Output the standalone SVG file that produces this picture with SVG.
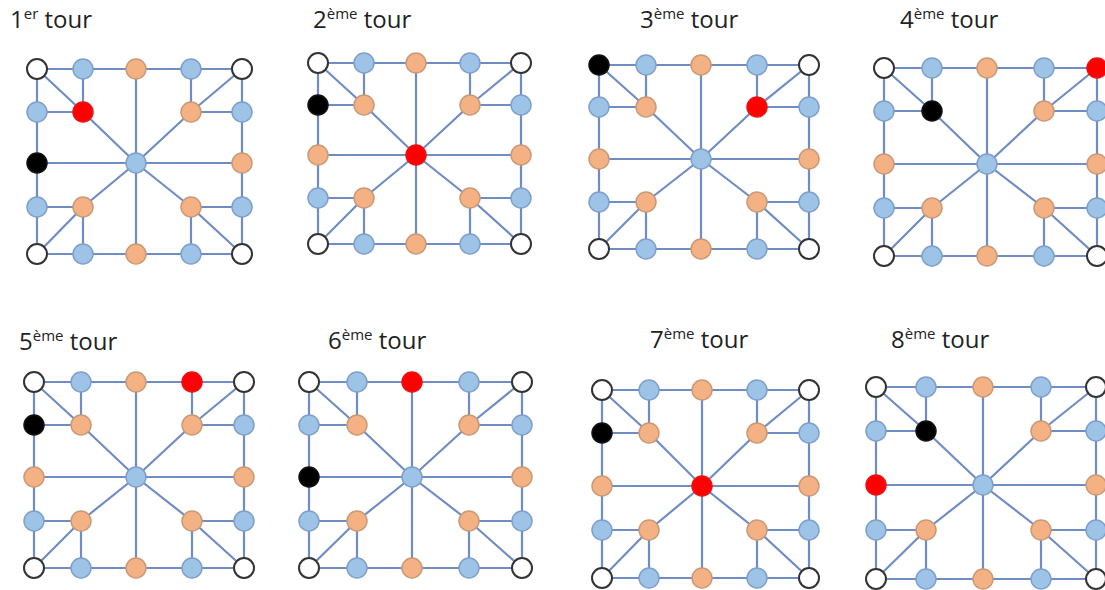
<svg xmlns="http://www.w3.org/2000/svg" width="1105" height="590" viewBox="0 0 1105 590">
<style>
.bg{fill:#ffffff}
.ttl{font-family:"Open Sans","Liberation Sans",sans-serif;font-size:24px;fill:#222222}
.sup{font-size:15px}
.cn{fill:none;stroke:#6F8CC4;stroke-width:2.2;stroke-linejoin:round}
circle{stroke-width:1.5}
.w circle{fill:#ffffff;stroke:#333333;stroke-width:2}
.b circle{fill:#9DC3E6;stroke:#7F9FCC}
.o circle{fill:#F4B183;stroke:#C99A78}
.r circle{fill:#FF0000;stroke:#F01010}
.k circle{fill:#000000;stroke:#111111}
</style>
<rect class="bg" x="0" y="0" width="1105" height="590"/>

<g id="titles">
<text class="ttl" x="10" y="28">1<tspan class="sup" dy="-9">er</tspan><tspan dy="9"> tour</tspan></text>
<text class="ttl" x="313" y="28">2<tspan class="sup" dy="-9">ème</tspan><tspan dy="9"> tour</tspan></text>
<text class="ttl" x="640" y="28">3<tspan class="sup" dy="-9">ème</tspan><tspan dy="9"> tour</tspan></text>
<text class="ttl" x="900" y="28">4<tspan class="sup" dy="-9">ème</tspan><tspan dy="9"> tour</tspan></text>
<text class="ttl" x="19" y="350">5<tspan class="sup" dy="-9">ème</tspan><tspan dy="9"> tour</tspan></text>
<text class="ttl" x="328" y="349">6<tspan class="sup" dy="-9">ème</tspan><tspan dy="9"> tour</tspan></text>
<text class="ttl" x="650" y="348">7<tspan class="sup" dy="-9">ème</tspan><tspan dy="9"> tour</tspan></text>
<text class="ttl" x="891" y="348">8<tspan class="sup" dy="-9">ème</tspan><tspan dy="9"> tour</tspan></text>
</g>

<g id="connectors">
<path class="cn" d="M37 69H242V254H37Z M37 69L83 112L136 163L191 207L242 254 M242 69L191 112L136 163L83 207L37 254 M136 69V254 M37 163H242 M83 69V112H37 M191 69V112H242 M37 207H83V254 M242 207H191V254"/>
<path class="cn" d="M318 63H521V244H318Z M318 63L364 105L416 155L470 198L521 244 M521 63L470 105L416 155L364 198L318 244 M416 63V244 M318 155H521 M364 63V105H318 M470 63V105H521 M318 198H364V244 M521 198H470V244"/>
<path class="cn" d="M599 65H809V249H599Z M599 65L646 107L701 159L757 202L809 249 M809 65L757 107L701 159L646 202L599 249 M701 65V249 M599 159H809 M646 65V107H599 M757 65V107H809 M599 202H646V249 M809 202H757V249"/>
<path class="cn" d="M884 68H1097V256H884Z M884 68L932 111L987 164L1044 208L1097 256 M1097 68L1044 111L987 164L932 208L884 256 M987 68V256 M884 164H1097 M932 68V111H884 M1044 68V111H1097 M884 208H932V256 M1097 208H1044V256"/>
<path class="cn" d="M34 382H244V568H34Z M34 382L81 425L136 477L192 521L244 568 M244 382L192 425L136 477L81 521L34 568 M136 382V568 M34 477H244 M81 382V425H34 M192 382V425H244 M34 521H81V568 M244 521H192V568"/>
<path class="cn" d="M309 382H522V568H309Z M309 382L357 425L412 477L469 521L522 568 M522 382L469 425L412 477L357 521L309 568 M412 382V568 M309 477H522 M357 382V425H309 M469 382V425H522 M309 521H357V568 M522 521H469V568"/>
<path class="cn" d="M602 390H809V578H602Z M602 390L649 433L702 486L757 530L809 578 M809 390L757 433L702 486L649 530L602 578 M702 390V578 M602 486H809 M649 390V433H602 M757 390V433H809 M602 530H649V578 M809 530H757V578"/>
<path class="cn" d="M876 387H1096V579H876Z M876 387L926 431L983 485L1041 530L1096 579 M1096 387L1041 431L983 485L926 530L876 579 M983 387V579 M876 485H1096 M926 387V431H876 M1041 387V431H1096 M876 530H926V579 M1096 530H1041V579"/>
</g>

<g id="board1">
<g id="b1-tl" class="w"><circle cx="37" cy="69" r="10"/></g>
<g id="b1-t1" class="b"><circle cx="83" cy="69" r="10"/></g>
<g id="b1-tm" class="o"><circle cx="136" cy="69" r="10"/></g>
<g id="b1-t2" class="b"><circle cx="191" cy="69" r="10"/></g>
<g id="b1-tr" class="w"><circle cx="242" cy="69" r="10"/></g>
<g id="b1-l1" class="b"><circle cx="37" cy="112" r="10"/></g>
<g id="b1-i1" class="r"><circle cx="83" cy="112" r="10"/></g>
<g id="b1-i2" class="o"><circle cx="191" cy="112" r="10"/></g>
<g id="b1-r1" class="b"><circle cx="242" cy="112" r="10"/></g>
<g id="b1-lm" class="k"><circle cx="37" cy="163" r="10"/></g>
<g id="b1-c" class="b"><circle cx="136" cy="163" r="10"/></g>
<g id="b1-rm" class="o"><circle cx="242" cy="163" r="10"/></g>
<g id="b1-l2" class="b"><circle cx="37" cy="207" r="10"/></g>
<g id="b1-i3" class="o"><circle cx="83" cy="207" r="10"/></g>
<g id="b1-i4" class="o"><circle cx="191" cy="207" r="10"/></g>
<g id="b1-r2" class="b"><circle cx="242" cy="207" r="10"/></g>
<g id="b1-bl" class="w"><circle cx="37" cy="254" r="10"/></g>
<g id="b1-b1" class="b"><circle cx="83" cy="254" r="10"/></g>
<g id="b1-bm" class="o"><circle cx="136" cy="254" r="10"/></g>
<g id="b1-b2" class="b"><circle cx="191" cy="254" r="10"/></g>
<g id="b1-br" class="w"><circle cx="242" cy="254" r="10"/></g>
</g>

<g id="board2">
<g id="b2-tl" class="w"><circle cx="318" cy="63" r="10"/></g>
<g id="b2-t1" class="b"><circle cx="364" cy="63" r="10"/></g>
<g id="b2-tm" class="o"><circle cx="416" cy="63" r="10"/></g>
<g id="b2-t2" class="b"><circle cx="470" cy="63" r="10"/></g>
<g id="b2-tr" class="w"><circle cx="521" cy="63" r="10"/></g>
<g id="b2-l1" class="k"><circle cx="318" cy="105" r="10"/></g>
<g id="b2-i1" class="o"><circle cx="364" cy="105" r="10"/></g>
<g id="b2-i2" class="o"><circle cx="470" cy="105" r="10"/></g>
<g id="b2-r1" class="b"><circle cx="521" cy="105" r="10"/></g>
<g id="b2-lm" class="o"><circle cx="318" cy="155" r="10"/></g>
<g id="b2-c" class="r"><circle cx="416" cy="155" r="10"/></g>
<g id="b2-rm" class="o"><circle cx="521" cy="155" r="10"/></g>
<g id="b2-l2" class="b"><circle cx="318" cy="198" r="10"/></g>
<g id="b2-i3" class="o"><circle cx="364" cy="198" r="10"/></g>
<g id="b2-i4" class="o"><circle cx="470" cy="198" r="10"/></g>
<g id="b2-r2" class="b"><circle cx="521" cy="198" r="10"/></g>
<g id="b2-bl" class="w"><circle cx="318" cy="244" r="10"/></g>
<g id="b2-b1" class="b"><circle cx="364" cy="244" r="10"/></g>
<g id="b2-bm" class="o"><circle cx="416" cy="244" r="10"/></g>
<g id="b2-b2" class="b"><circle cx="470" cy="244" r="10"/></g>
<g id="b2-br" class="w"><circle cx="521" cy="244" r="10"/></g>
</g>

<g id="board3">
<g id="b3-tl" class="k"><circle cx="599" cy="65" r="10"/></g>
<g id="b3-t1" class="b"><circle cx="646" cy="65" r="10"/></g>
<g id="b3-tm" class="o"><circle cx="701" cy="65" r="10"/></g>
<g id="b3-t2" class="b"><circle cx="757" cy="65" r="10"/></g>
<g id="b3-tr" class="w"><circle cx="809" cy="65" r="10"/></g>
<g id="b3-l1" class="b"><circle cx="599" cy="107" r="10"/></g>
<g id="b3-i1" class="o"><circle cx="646" cy="107" r="10"/></g>
<g id="b3-i2" class="r"><circle cx="757" cy="107" r="10"/></g>
<g id="b3-r1" class="b"><circle cx="809" cy="107" r="10"/></g>
<g id="b3-lm" class="o"><circle cx="599" cy="159" r="10"/></g>
<g id="b3-c" class="b"><circle cx="701" cy="159" r="10"/></g>
<g id="b3-rm" class="o"><circle cx="809" cy="159" r="10"/></g>
<g id="b3-l2" class="b"><circle cx="599" cy="202" r="10"/></g>
<g id="b3-i3" class="o"><circle cx="646" cy="202" r="10"/></g>
<g id="b3-i4" class="o"><circle cx="757" cy="202" r="10"/></g>
<g id="b3-r2" class="b"><circle cx="809" cy="202" r="10"/></g>
<g id="b3-bl" class="w"><circle cx="599" cy="249" r="10"/></g>
<g id="b3-b1" class="b"><circle cx="646" cy="249" r="10"/></g>
<g id="b3-bm" class="o"><circle cx="701" cy="249" r="10"/></g>
<g id="b3-b2" class="b"><circle cx="757" cy="249" r="10"/></g>
<g id="b3-br" class="w"><circle cx="809" cy="249" r="10"/></g>
</g>

<g id="board4">
<g id="b4-tl" class="w"><circle cx="884" cy="68" r="10"/></g>
<g id="b4-t1" class="b"><circle cx="932" cy="68" r="10"/></g>
<g id="b4-tm" class="o"><circle cx="987" cy="68" r="10"/></g>
<g id="b4-t2" class="b"><circle cx="1044" cy="68" r="10"/></g>
<g id="b4-tr" class="r"><circle cx="1097" cy="68" r="10"/></g>
<g id="b4-l1" class="b"><circle cx="884" cy="111" r="10"/></g>
<g id="b4-i1" class="k"><circle cx="932" cy="111" r="10"/></g>
<g id="b4-i2" class="o"><circle cx="1044" cy="111" r="10"/></g>
<g id="b4-r1" class="b"><circle cx="1097" cy="111" r="10"/></g>
<g id="b4-lm" class="o"><circle cx="884" cy="164" r="10"/></g>
<g id="b4-c" class="b"><circle cx="987" cy="164" r="10"/></g>
<g id="b4-rm" class="o"><circle cx="1097" cy="164" r="10"/></g>
<g id="b4-l2" class="b"><circle cx="884" cy="208" r="10"/></g>
<g id="b4-i3" class="o"><circle cx="932" cy="208" r="10"/></g>
<g id="b4-i4" class="o"><circle cx="1044" cy="208" r="10"/></g>
<g id="b4-r2" class="b"><circle cx="1097" cy="208" r="10"/></g>
<g id="b4-bl" class="w"><circle cx="884" cy="256" r="10"/></g>
<g id="b4-b1" class="b"><circle cx="932" cy="256" r="10"/></g>
<g id="b4-bm" class="o"><circle cx="987" cy="256" r="10"/></g>
<g id="b4-b2" class="b"><circle cx="1044" cy="256" r="10"/></g>
<g id="b4-br" class="w"><circle cx="1097" cy="256" r="10"/></g>
</g>

<g id="board5">
<g id="b5-tl" class="w"><circle cx="34" cy="382" r="10"/></g>
<g id="b5-t1" class="b"><circle cx="81" cy="382" r="10"/></g>
<g id="b5-tm" class="o"><circle cx="136" cy="382" r="10"/></g>
<g id="b5-t2" class="r"><circle cx="192" cy="382" r="10"/></g>
<g id="b5-tr" class="w"><circle cx="244" cy="382" r="10"/></g>
<g id="b5-l1" class="k"><circle cx="34" cy="425" r="10"/></g>
<g id="b5-i1" class="o"><circle cx="81" cy="425" r="10"/></g>
<g id="b5-i2" class="o"><circle cx="192" cy="425" r="10"/></g>
<g id="b5-r1" class="b"><circle cx="244" cy="425" r="10"/></g>
<g id="b5-lm" class="o"><circle cx="34" cy="477" r="10"/></g>
<g id="b5-c" class="b"><circle cx="136" cy="477" r="10"/></g>
<g id="b5-rm" class="o"><circle cx="244" cy="477" r="10"/></g>
<g id="b5-l2" class="b"><circle cx="34" cy="521" r="10"/></g>
<g id="b5-i3" class="o"><circle cx="81" cy="521" r="10"/></g>
<g id="b5-i4" class="o"><circle cx="192" cy="521" r="10"/></g>
<g id="b5-r2" class="b"><circle cx="244" cy="521" r="10"/></g>
<g id="b5-bl" class="w"><circle cx="34" cy="568" r="10"/></g>
<g id="b5-b1" class="b"><circle cx="81" cy="568" r="10"/></g>
<g id="b5-bm" class="o"><circle cx="136" cy="568" r="10"/></g>
<g id="b5-b2" class="b"><circle cx="192" cy="568" r="10"/></g>
<g id="b5-br" class="w"><circle cx="244" cy="568" r="10"/></g>
</g>

<g id="board6">
<g id="b6-tl" class="w"><circle cx="309" cy="382" r="10"/></g>
<g id="b6-t1" class="b"><circle cx="357" cy="382" r="10"/></g>
<g id="b6-tm" class="r"><circle cx="412" cy="382" r="10"/></g>
<g id="b6-t2" class="b"><circle cx="469" cy="382" r="10"/></g>
<g id="b6-tr" class="w"><circle cx="522" cy="382" r="10"/></g>
<g id="b6-l1" class="b"><circle cx="309" cy="425" r="10"/></g>
<g id="b6-i1" class="o"><circle cx="357" cy="425" r="10"/></g>
<g id="b6-i2" class="o"><circle cx="469" cy="425" r="10"/></g>
<g id="b6-r1" class="b"><circle cx="522" cy="425" r="10"/></g>
<g id="b6-lm" class="k"><circle cx="309" cy="477" r="10"/></g>
<g id="b6-c" class="b"><circle cx="412" cy="477" r="10"/></g>
<g id="b6-rm" class="o"><circle cx="522" cy="477" r="10"/></g>
<g id="b6-l2" class="b"><circle cx="309" cy="521" r="10"/></g>
<g id="b6-i3" class="o"><circle cx="357" cy="521" r="10"/></g>
<g id="b6-i4" class="o"><circle cx="469" cy="521" r="10"/></g>
<g id="b6-r2" class="b"><circle cx="522" cy="521" r="10"/></g>
<g id="b6-bl" class="w"><circle cx="309" cy="568" r="10"/></g>
<g id="b6-b1" class="b"><circle cx="357" cy="568" r="10"/></g>
<g id="b6-bm" class="o"><circle cx="412" cy="568" r="10"/></g>
<g id="b6-b2" class="b"><circle cx="469" cy="568" r="10"/></g>
<g id="b6-br" class="w"><circle cx="522" cy="568" r="10"/></g>
</g>

<g id="board7">
<g id="b7-tl" class="w"><circle cx="602" cy="390" r="10"/></g>
<g id="b7-t1" class="b"><circle cx="649" cy="390" r="10"/></g>
<g id="b7-tm" class="o"><circle cx="702" cy="390" r="10"/></g>
<g id="b7-t2" class="b"><circle cx="757" cy="390" r="10"/></g>
<g id="b7-tr" class="w"><circle cx="809" cy="390" r="10"/></g>
<g id="b7-l1" class="k"><circle cx="602" cy="433" r="10"/></g>
<g id="b7-i1" class="o"><circle cx="649" cy="433" r="10"/></g>
<g id="b7-i2" class="o"><circle cx="757" cy="433" r="10"/></g>
<g id="b7-r1" class="b"><circle cx="809" cy="433" r="10"/></g>
<g id="b7-lm" class="o"><circle cx="602" cy="486" r="10"/></g>
<g id="b7-c" class="r"><circle cx="702" cy="486" r="10"/></g>
<g id="b7-rm" class="o"><circle cx="809" cy="486" r="10"/></g>
<g id="b7-l2" class="b"><circle cx="602" cy="530" r="10"/></g>
<g id="b7-i3" class="o"><circle cx="649" cy="530" r="10"/></g>
<g id="b7-i4" class="o"><circle cx="757" cy="530" r="10"/></g>
<g id="b7-r2" class="b"><circle cx="809" cy="530" r="10"/></g>
<g id="b7-bl" class="w"><circle cx="602" cy="578" r="10"/></g>
<g id="b7-b1" class="b"><circle cx="649" cy="578" r="10"/></g>
<g id="b7-bm" class="o"><circle cx="702" cy="578" r="10"/></g>
<g id="b7-b2" class="b"><circle cx="757" cy="578" r="10"/></g>
<g id="b7-br" class="w"><circle cx="809" cy="578" r="10"/></g>
</g>

<g id="board8">
<g id="b8-tl" class="w"><circle cx="876" cy="387" r="10"/></g>
<g id="b8-t1" class="b"><circle cx="926" cy="387" r="10"/></g>
<g id="b8-tm" class="o"><circle cx="983" cy="387" r="10"/></g>
<g id="b8-t2" class="b"><circle cx="1041" cy="387" r="10"/></g>
<g id="b8-tr" class="w"><circle cx="1096" cy="387" r="10"/></g>
<g id="b8-l1" class="b"><circle cx="876" cy="431" r="10"/></g>
<g id="b8-i1" class="k"><circle cx="926" cy="431" r="10"/></g>
<g id="b8-i2" class="o"><circle cx="1041" cy="431" r="10"/></g>
<g id="b8-r1" class="b"><circle cx="1096" cy="431" r="10"/></g>
<g id="b8-lm" class="r"><circle cx="876" cy="485" r="10"/></g>
<g id="b8-c" class="b"><circle cx="983" cy="485" r="10"/></g>
<g id="b8-rm" class="o"><circle cx="1096" cy="485" r="10"/></g>
<g id="b8-l2" class="b"><circle cx="876" cy="530" r="10"/></g>
<g id="b8-i3" class="o"><circle cx="926" cy="530" r="10"/></g>
<g id="b8-i4" class="o"><circle cx="1041" cy="530" r="10"/></g>
<g id="b8-r2" class="b"><circle cx="1096" cy="530" r="10"/></g>
<g id="b8-bl" class="w"><circle cx="876" cy="579" r="10"/></g>
<g id="b8-b1" class="b"><circle cx="926" cy="579" r="10"/></g>
<g id="b8-bm" class="o"><circle cx="983" cy="579" r="10"/></g>
<g id="b8-b2" class="b"><circle cx="1041" cy="579" r="10"/></g>
<g id="b8-br" class="w"><circle cx="1096" cy="579" r="10"/></g>
</g>
</svg>
